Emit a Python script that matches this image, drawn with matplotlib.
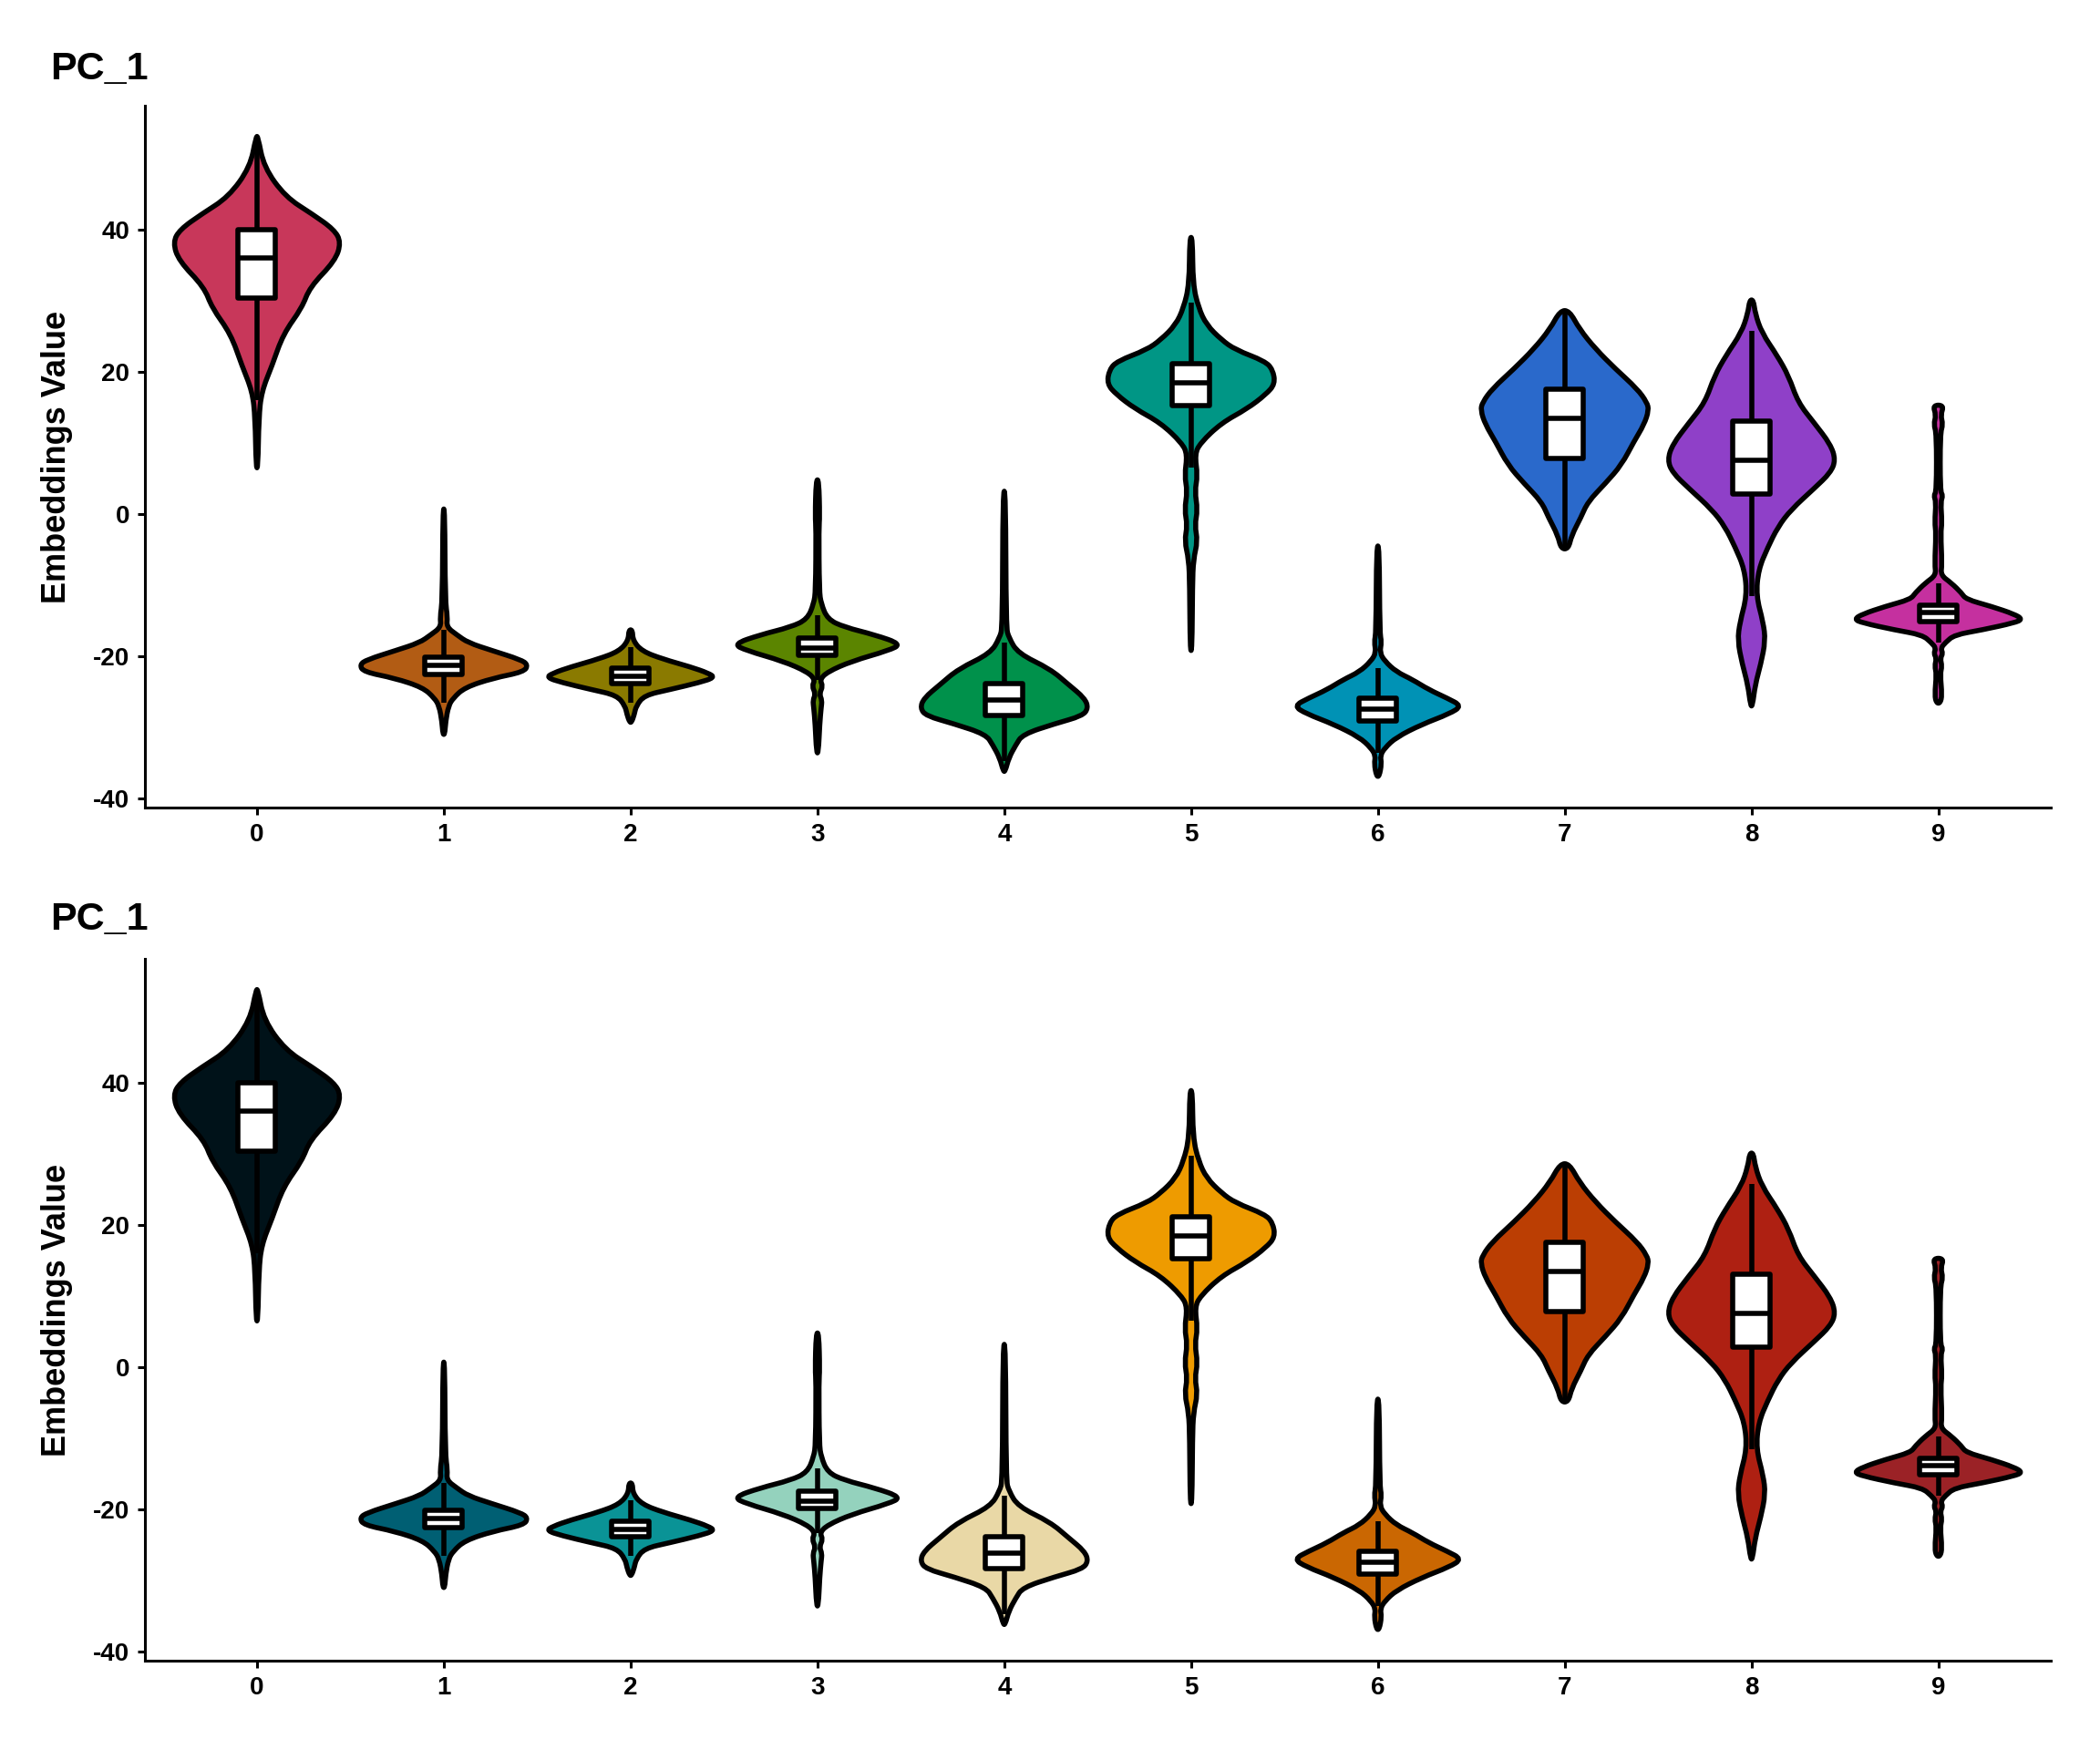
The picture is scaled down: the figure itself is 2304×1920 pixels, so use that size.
import matplotlib
matplotlib.use("Agg")
import matplotlib.pyplot as plt
from matplotlib.patches import Rectangle, PathPatch
from matplotlib.path import Path
import numpy as np

plt.rcParams['font.family'] = ['Liberation Sans', 'DejaVu Sans']

# cluster ids
groups = ["0", "1", "2", "3", "4", "5", "6", "7", "8", "9"]

# violin outlines: y values and relative half widths
violin_y = [
    [53.1, 48.8, 44.6, 42.2, 40.0, 38.2, 35.6, 31.9, 29.0, 25.3, 20.9, 17.2, 13.5, 6.5],
    [0.7, -12.2, -14.5, -15.9, -17.0, -18.1, -19.2, -20.5, -21.2, -22.2, -23.1, -24.4, -25.9, -27.0, -29.2, -31.0],
    [-16.3, -17.8, -19.3, -20.4, -21.5, -22.4, -23.0, -23.7, -24.7, -25.5, -27.0, -28.2, -29.3],
    [4.8, -0.5, -1.9, -10.8, -12.6, -14.8, -15.9, -17.0, -18.3, -19.2, -20.7, -22.2, -23.3,
     -24.2, -25.3, -26.2, -27.3, -29.5, -33.6],
    [3.2, -15.9, -17.4, -19.6, -21.8, -24.0, -25.9, -27.3, -28.4, -29.5, -31.0, -32.5, -34.3, -36.2],
    [38.9, 32.3, 29.0, 26.6, 24.5, 23.1, 21.5, 20.3, 18.3, 16.8, 14.8, 12.8, 10.0, 8.4, 5.4, 3.2,
     0.6, -1.6, -3.8, -6.4, -10.0, -19.2],
    [-4.5, -16.7, -18.0, -19.5, -20.7, -22.2, -23.3, -24.7, -25.9, -27.0, -28.1, -29.6, -31.4,
     -32.9, -34.0, -35.1, -36.9],
    [28.6, 26.0, 23.2, 20.4, 17.6, 15.7, 14.6, 12.6, 10.2, 6.9, 4.3, 1.7, -0.5, -3.0, -4.9],
    [30.1, 28.2, 25.5, 22.3, 19.4, 15.7, 12.8, 9.8, 7.6, 5.8, 3.6, 0.6, -1.8, -4.7, -7.8, -11.5,
     -15.2, -17.8, -21.1, -24.0, -27.0],
    [15.3, 13.9, 12.6, 11.3, 3.2, 2.6, 1.7, -1.2, -2.7, -7.1, -8.6, -9.7, -11.1, -12.0, -13.0,
     -14.1, -14.8, -15.3, -16.3, -17.0, -18.1, -18.9, -19.6, -20.3, -21.4, -22.5, -25.5, -26.6],
]
violin_w = [
    [2, 15, 62, 120, 168, 183, 170, 115, 98, 57, 33, 10, 4, 2],
    [2, 3, 8, 6, 28, 52, 103, 165, 180, 172, 105, 45, 20, 10, 4, 2],
    [4, 5, 25, 70, 130, 170, 183, 150, 85, 30, 12, 8, 2],
    [3, 5, 3, 4, 8, 22, 58, 125, 183, 155, 75, 22, 5, 12, 4, 10, 8, 5, 2],
    [3, 4, 10, 30, 100, 140, 175, 183, 170, 110, 40, 25, 10, 2],
    [3, 4, 16, 33, 65, 95, 158, 175, 180, 160, 120, 65, 20, 8, 14, 8, 14, 8, 14, 5, 3, 2],
    [3, 4, 8, 4, 15, 40, 75, 110, 150, 182, 155, 95, 40, 15, 5, 8, 3],
    [10, 32, 67, 110, 157, 178, 182, 172, 150, 123, 88, 50, 35, 15, 8],
    [4, 8, 22, 55, 80, 100, 135, 170, 181, 170, 135, 85, 57, 35, 15, 10, 25, 30, 20, 8, 2],
    [12, 5, 10, 4, 4, 10, 5, 8, 5, 8, 5, 28, 50, 60, 115, 165, 182, 165, 95, 35, 15, 5, 10, 4,
     8, 4, 8, 4],
]

# box plot stats
box_q1 = [30.4, -22.6, -23.9, -19.9, -28.4, 15.3, -29.1, 7.8, 2.8, -15.2]
box_med = [36.0, -21.3, -22.8, -18.8, -26.2, 18.4, -27.5, 13.4, 7.6, -13.9]
box_q3 = [40.0, -20.1, -21.7, -17.5, -23.8, 21.2, -25.9, 17.6, 13.1, -12.8]
whisk_lo = [16.0, -26.6, -26.6, -23.3, -34.7, 6.5, -33.6, -4.9, -11.5, -18.1]
whisk_hi = [53.1, -16.3, -18.7, -14.3, -18.1, 29.7, -21.7, 28.6, 25.7, -9.7]

colors_top = ["#C8375A", "#B25C14", "#8A7A00", "#5B8500", "#00914B",
              "#009685", "#0092B5", "#2A69CB", "#8F40C8", "#C5309F"]
colors_bottom = ["#001219", "#005F73", "#0A9396", "#94D2BD", "#E9D8A6",
                 "#EE9B00", "#CA6702", "#BB3E03", "#AE2012", "#9B2226"]

y_ticks = [-40, -20, 0, 20, 40]

LW = 2.0


def smooth_outline(xs, ys):
    # closed outline drawn as quadratic bezier through segment midpoints
    pts = np.column_stack([xs, ys])
    n = len(pts)
    mids = (pts + np.roll(pts, -1, axis=0)) / 2
    verts = [mids[-1]]
    codes = [Path.MOVETO]
    for k in range(n):
        verts += [pts[k], mids[k]]
        codes += [Path.CURVE3, Path.CURVE3]
    verts.append(mids[-1])
    codes.append(Path.CLOSEPOLY)
    return Path(verts, codes)


def draw_panel(ax, colors):
    for i in range(len(groups)):
        y = np.array(violin_y[i], dtype=float)
        w = np.array(violin_w[i], dtype=float)
        half = 0.45 * w / w.max()
        # keep the end points flat so the tips look like ggplot's
        xs = np.concatenate([i - half, (i + half)[::-1]])
        ys = np.concatenate([y, y[::-1]])
        ax.add_patch(PathPatch(smooth_outline(xs, ys), facecolor=colors[i],
                               edgecolor="black", linewidth=LW, joinstyle="round", zorder=2))
        # whiskers
        ax.plot([i, i], [box_q3[i], whisk_hi[i]], color="black", lw=LW,
                solid_capstyle="butt", zorder=3)
        ax.plot([i, i], [whisk_lo[i], box_q1[i]], color="black", lw=LW,
                solid_capstyle="butt", zorder=3)
        ax.add_patch(Rectangle((i - 0.1, box_q1[i]), 0.2, box_q3[i] - box_q1[i],
                               facecolor="white", edgecolor="black", lw=LW,
                               joinstyle="round", zorder=4))
        ax.plot([i - 0.1, i + 0.1], [box_med[i], box_med[i]], color="black",
                lw=LW, solid_capstyle="butt", zorder=5)

    ax.set_xlim(-0.6, 9.6)
    ax.set_ylim(-41.3, 57.4)
    ax.set_xticks(range(len(groups)))
    ax.set_xticklabels(groups)
    ax.set_yticks(y_ticks)
    ax.set_yticklabels([str(t) for t in y_ticks])
    for s in ["top", "right"]:
        ax.spines[s].set_visible(False)
    for s in ["left", "bottom"]:
        ax.spines[s].set_linewidth(1.1)
    ax.tick_params(axis="both", width=1.1, length=3, labelsize=10, pad=3)
    for lab in ax.get_xticklabels() + ax.get_yticklabels():
        lab.set_fontweight("bold")
    ax.set_ylabel("Embeddings Value", fontsize=13, fontweight="bold", labelpad=8)


fig = plt.figure(figsize=(11.52, 9.6), dpi=200)
ax1 = fig.add_axes([0.069, 0.5385, 0.9074, 0.401])
ax2 = fig.add_axes([0.069, 0.051, 0.9074, 0.401])
draw_panel(ax1, colors_top)
draw_panel(ax2, colors_bottom)

fig.text(0.0239, 0.9547, "PC_1", fontsize=15.5, fontweight="bold", ha="left", va="baseline")
fig.text(0.0239, 0.4687, "PC_1", fontsize=15.5, fontweight="bold", ha="left", va="baseline")

fig.savefig("out.png", dpi=200, facecolor="white")
